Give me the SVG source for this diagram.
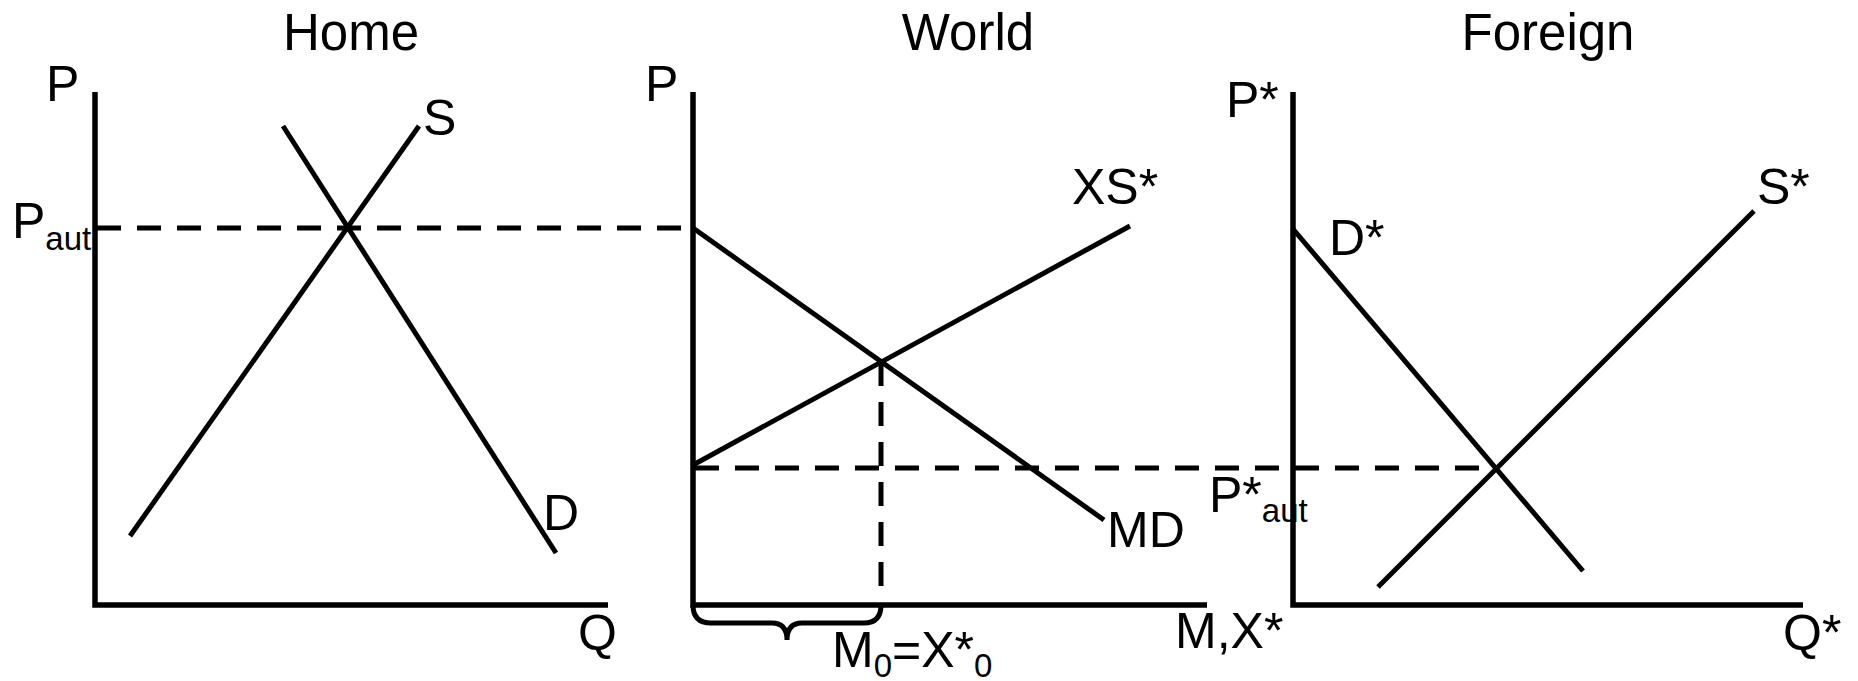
<svg xmlns="http://www.w3.org/2000/svg" width="1858" height="681" viewBox="0 0 1858 681">
<style>
text{font-family:"Liberation Sans",Arial,sans-serif;font-size:50px;fill:#000}
.title{font-size:51px}
.sub{font-size:33px}
.ax{stroke:#000;stroke-width:5.5;fill:none}
.cv{stroke:#000;stroke-width:5;fill:none}
.da{stroke:#000;stroke-width:5;fill:none;stroke-dasharray:24 16}
</style>
<rect width="1858" height="681" fill="#fff"/>
<g id="titles">
<text class="title" x="351" y="50" text-anchor="middle">Home</text>
<text class="title" x="968" y="50" text-anchor="middle">World</text>
<text class="title" x="1548" y="50" text-anchor="middle">Foreign</text>
</g>
<g id="home">
<path class="ax" d="M95 92 V605 H608"/>
<text x="46" y="101">P</text>
<text x="578" y="650">Q</text>
<text x="12" y="238">P<tspan class="sub" dy="12">aut</tspan></text>
</g>
<g id="home-S"><line class="cv" x1="419" y1="126" x2="130" y2="536"/><text x="423" y="135">S</text></g>
<g id="home-D"><line class="cv" x1="283" y1="126" x2="556" y2="553"/><text x="543" y="530">D</text></g>
<g id="world">
<path class="ax" d="M693 92 V605 H1207"/>
<text x="645" y="101">P</text>
<text x="1175" y="648">M,X*</text>
<path class="cv" d="M693 605 Q693 623 711 623 L772 623 Q787 623 787 640 Q787 623 802 623 L864 623 Q881 623 881 605"/>
<text x="832" y="667">M<tspan class="sub" dy="10">0</tspan><tspan dy="-10">=X*</tspan><tspan class="sub" dy="10">0</tspan></text>
</g>
<g id="world-MD"><line class="cv" x1="693" y1="228" x2="1104" y2="520"/><text x="1107" y="547">MD</text></g>
<g id="world-XS"><line class="cv" x1="693" y1="465" x2="1130" y2="226"/><text x="1072" y="204">XS*</text></g>
<g id="foreign">
<path class="ax" d="M1293 92 V605 H1803"/>
<text x="1226" y="117">P*</text>
<text x="1783" y="650">Q*</text>
<text x="1209" y="512">P*<tspan class="sub" dy="10">aut</tspan></text>
</g>
<g id="foreign-D"><line class="cv" x1="1293" y1="229" x2="1583" y2="571"/><text x="1329" y="255">D*</text></g>
<g id="foreign-S"><line class="cv" x1="1378" y1="587" x2="1754" y2="211"/><text x="1757" y="204">S*</text></g>
<g id="connectors">
<line class="da" x1="97" y1="228" x2="693" y2="228"/>
<line class="da" x1="881" y1="362" x2="881" y2="590"/>
<line class="da" x1="695" y1="468" x2="1496" y2="468"/>
</g>
</svg>
